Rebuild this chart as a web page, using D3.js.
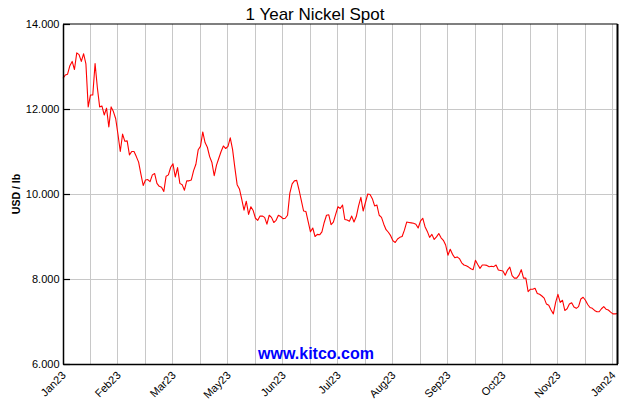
<!DOCTYPE html>
<html>
<head>
<meta charset="utf-8">
<script src="https://cdn.jsdelivr.net/npm/d3@7"></script>
<style>
  html, body { margin: 0; padding: 0; background: #fff; }
  svg { display: block; font-family: "Liberation Sans", Arial, sans-serif; }
</style>
</head>
<body>
<svg id="chart" width="630" height="400"></svg>
<script>
const titleText = "1 Year Nickel Spot";
const yAxisLabel = "USD / lb";
const watermark = "www.kitco.com";

// Daily spot prices (USD/lb), one value per trading day, Jan 2023 – Jan 2024
const prices = [
  12.72,12.80,12.82,13.02,13.12,12.93,13.32,13.28,13.12,13.30,
  13.06,12.05,12.33,12.33,13.07,12.50,12.05,12.07,11.86,12.02,
  11.58,12.05,11.94,11.77,11.40,11.00,11.41,11.24,11.25,10.92,
  11.00,11.00,10.88,10.75,10.47,10.20,10.33,10.34,10.29,10.45,
  10.48,10.25,10.18,10.16,10.06,10.42,10.45,10.63,10.71,10.40,
  10.62,10.25,10.22,10.09,10.31,10.31,10.33,10.55,10.70,11.04,
  11.12,11.46,11.21,11.10,10.88,10.74,10.43,10.68,10.84,11.00,
  11.13,11.07,11.12,11.32,11.05,10.62,10.22,10.12,9.88,9.62,
  9.83,9.52,9.70,9.61,9.43,9.38,9.48,9.48,9.45,9.29,
  9.50,9.45,9.33,9.38,9.50,9.47,9.42,9.43,9.50,10.02,
  10.24,10.31,10.32,10.10,9.85,9.60,9.59,9.35,9.11,9.20,
  9.00,9.05,9.04,9.11,9.33,9.50,9.51,9.28,9.34,9.52,
  9.70,9.66,9.74,9.40,9.39,9.36,9.48,9.34,9.47,9.72,
  9.92,9.60,9.80,10.00,9.99,9.89,9.72,9.74,9.50,9.45,
  9.29,9.16,9.10,9.02,8.90,8.86,8.94,8.98,9.00,9.15,
  9.34,9.33,9.32,9.31,9.29,9.20,9.36,9.43,9.23,9.12,
  8.98,9.05,8.93,8.99,9.07,8.97,8.91,8.80,8.56,8.70,
  8.58,8.50,8.52,8.48,8.38,8.33,8.31,8.28,8.24,8.22,
  8.44,8.34,8.25,8.33,8.33,8.32,8.29,8.30,8.29,8.33,
  8.21,8.20,8.19,8.09,8.21,8.28,8.08,8.02,8.02,8.09,
  8.22,8.02,8.02,7.70,7.76,7.76,7.78,7.66,7.64,7.60,
  7.55,7.41,7.38,7.27,7.18,7.45,7.64,7.45,7.50,7.26,
  7.30,7.41,7.44,7.34,7.31,7.35,7.53,7.57,7.50,7.40,
  7.33,7.31,7.26,7.23,7.23,7.30,7.35,7.29,7.27,7.22,
  7.18,7.18,7.19
];

const yTicks = [6, 8, 10, 12, 14];
const monthLabels = ["Jan23","Feb23","Mar23","May23","Jun23","Jul23","Aug23","Sep23","Oct23","Nov23","Jan24"];
const labelStep = 24;   // trading days between labels
const gridStep = 12;    // trading days between vertical gridlines

const svg = d3.select("#chart");
const m = { left: 63, right: 617.5, top: 24, bottom: 364 };

const x = d3.scaleLinear().domain([0, prices.length - 1]).range([m.left, m.right]);
const y = d3.scaleLinear().domain([6, 14]).range([m.bottom, m.top]);

// gridlines
const gridIdx = d3.range(gridStep, prices.length, gridStep);
svg.append("g").selectAll("line").data(gridIdx).join("line")
  .attr("x1", d => x(d)).attr("x2", d => x(d))
  .attr("y1", m.top).attr("y2", m.bottom)
  .attr("stroke", "#c8c8c8").attr("stroke-width", 1).attr("shape-rendering", "crispEdges");
svg.append("g").selectAll("line").data(yTicks.filter(v => v > 6 && v < 14)).join("line")
  .attr("x1", m.left).attr("x2", m.right)
  .attr("y1", d => y(d)).attr("y2", d => y(d))
  .attr("stroke", "#c8c8c8").attr("stroke-width", 1).attr("shape-rendering", "crispEdges");

// line
const line = d3.line().x((d, i) => x(i)).y(d => y(d));
svg.append("path").datum(prices)
  .attr("d", line).attr("fill", "none")
  .attr("stroke", "#ff0000").attr("stroke-width", 1.1).attr("stroke-linejoin", "round");

// border
svg.append("line").attr("x1", m.left).attr("x2", m.right).attr("y1", m.top).attr("y2", m.top)
  .attr("stroke", "#000").attr("stroke-width", 1.2);
svg.append("line").attr("x1", m.right).attr("x2", m.right).attr("y1", m.top).attr("y2", m.bottom)
  .attr("stroke", "#000").attr("stroke-width", 2);

// y axis
const yAxis = d3.axisLeft(y).tickValues(yTicks).tickFormat(d3.format(".3f"))
  .tickSizeInner(-7).tickSizeOuter(0).tickPadding(3.5);
const gy = svg.append("g").attr("transform", `translate(${m.left},0)`).call(yAxis);
gy.select(".domain").attr("stroke", "#000").attr("stroke-width", 1.5);
gy.selectAll(".tick line").attr("stroke", "#000").attr("stroke-width", 1.2);
gy.selectAll("text").attr("font-size", 11).attr("fill", "#000")
  .attr("font-family", '"Liberation Sans", Arial, sans-serif');

// x axis
const labelIdx = monthLabels.map((_, k) => k * labelStep);
const xAxis = d3.axisBottom(x).tickValues(labelIdx).tickFormat((d, k) => monthLabels[k])
  .tickSizeInner(0).tickSizeOuter(0).tickPadding(0);
const gx = svg.append("g").attr("transform", `translate(0,${m.bottom})`).call(xAxis);
gx.select(".domain").attr("stroke", "#000").attr("stroke-width", 1.5);
gx.selectAll("text")
  .attr("font-size", 11).attr("fill", "#000")
  .attr("font-family", '"Liberation Sans", Arial, sans-serif')
  .attr("text-anchor", "end")
  .attr("dy", null).attr("y", 0)
  .attr("transform", "translate(3,12) rotate(-45)");

// title
svg.append("text").attr("x", 315).attr("y", 19.5).attr("text-anchor", "middle")
  .attr("font-size", 17).attr("fill", "#000").text(titleText);

// y label
svg.append("text").attr("transform", `translate(20,${(m.top + m.bottom) / 2}) rotate(-90)`)
  .attr("text-anchor", "middle").attr("font-size", 10.5).attr("font-weight", "bold")
  .attr("fill", "#000").text(yAxisLabel);

// watermark
svg.append("text").attr("x", 316).attr("y", 359).attr("text-anchor", "middle")
  .attr("font-size", 16).attr("font-weight", "bold").attr("fill", "#0000ff").text(watermark);
</script>
</body>
</html>
